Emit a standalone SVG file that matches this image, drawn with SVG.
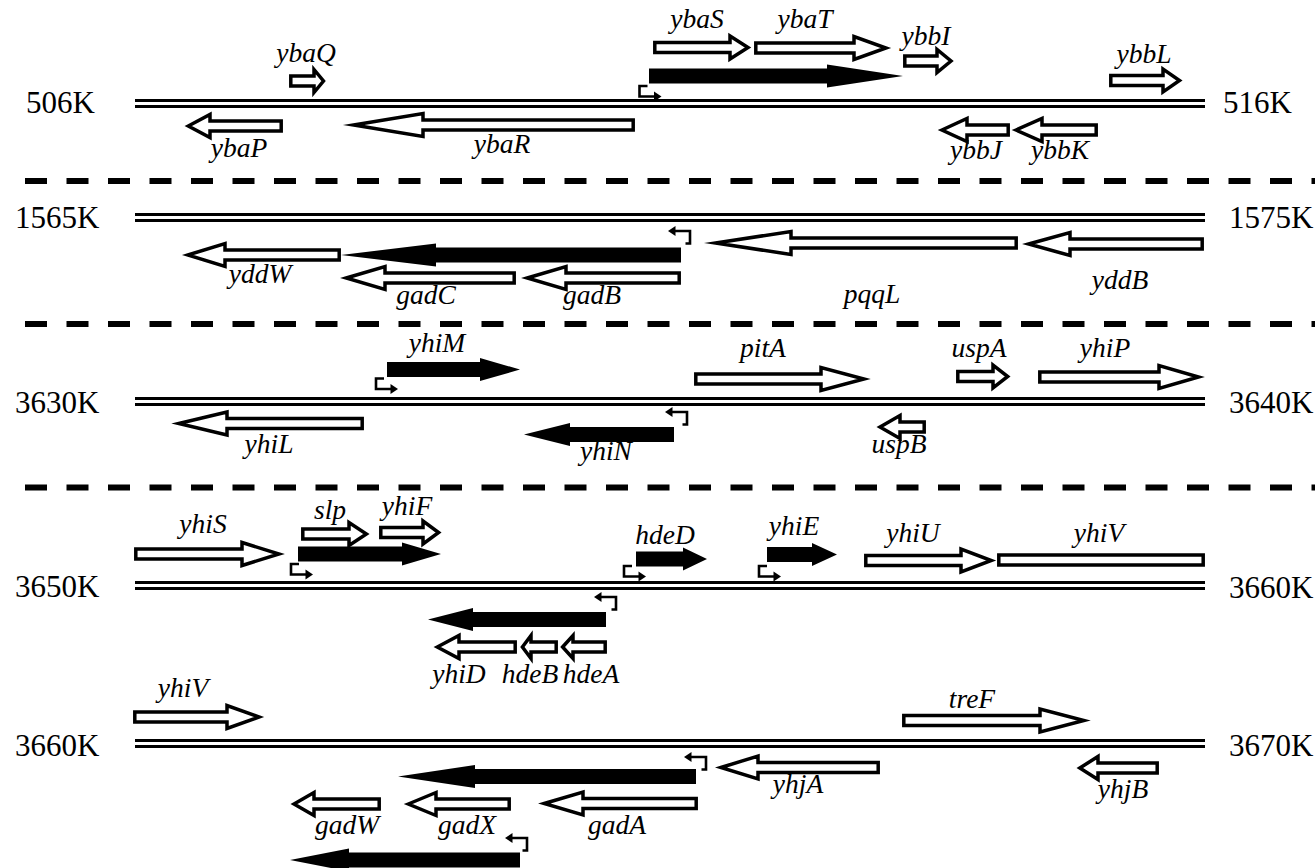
<svg xmlns="http://www.w3.org/2000/svg" xmlns:xlink="http://www.w3.org/1999/xlink" width="1315" height="868" viewBox="0 0 1315 868">
<style>
.o{fill:#fff;stroke:#000;stroke-width:3.5;stroke-miterlimit:20}
.f{fill:#000}
.dna{stroke:#000;stroke-width:2.8}
.sep{stroke:#000;stroke-width:6;stroke-dasharray:22 19.5}
.g{font-family:"Liberation Serif","Times New Roman",serif;font-style:italic;font-size:27.5px;text-anchor:middle}
.k{font-family:"Liberation Serif","Times New Roman",serif;font-size:31px}
.p{fill:none;stroke:#000;stroke-width:2.6}
</style>
<defs>
<g id="pf"><path class="p" d="M8,0 H0 V10.5 H16"/><polygon points="14.5,5.5 22,10.5 14.5,15.5"/></g>
<g id="pr"><path class="p" d="M-4.5,12.5 H0 V0 H-16"/><polygon points="-14.5,-5 -22,0 -14.5,5"/></g>
</defs>
<rect width="1315" height="868" fill="#fff"/>

<g id="separators">
<line class="sep" x1="25" y1="181" x2="1315" y2="181"/>
<line class="sep" x1="25" y1="324" x2="1315" y2="324"/>
<line class="sep" x1="25" y1="487.5" x2="1315" y2="487.5"/>
</g>

<g id="dna">
<line class="dna" x1="135" y1="100.5" x2="1205" y2="100.5"/><line class="dna" x1="135" y1="106.5" x2="1205" y2="106.5"/>
<line class="dna" x1="135" y1="214.5" x2="1205" y2="214.5"/><line class="dna" x1="135" y1="220.5" x2="1205" y2="220.5"/>
<line class="dna" x1="135" y1="398.5" x2="1205" y2="398.5"/><line class="dna" x1="135" y1="404.5" x2="1205" y2="404.5"/>
<line class="dna" x1="135" y1="582.5" x2="1205" y2="582.5"/><line class="dna" x1="135" y1="588.5" x2="1205" y2="588.5"/>
<line class="dna" x1="135" y1="740.5" x2="1205" y2="740.5"/><line class="dna" x1="135" y1="746.5" x2="1205" y2="746.5"/>
</g>

<g id="coordinates">
<text class="k" x="26" y="113">506K</text><text class="k" x="1223" y="113">516K</text>
<text class="k" x="15" y="228">1565K</text><text class="k" x="1229" y="228">1575K</text>
<text class="k" x="15" y="413">3630K</text><text class="k" x="1229" y="413">3640K</text>
<text class="k" x="15" y="597">3650K</text><text class="k" x="1229" y="598">3660K</text>
<text class="k" x="15" y="756">3660K</text><text class="k" x="1229" y="756">3670K</text>
</g>

<g id="transcripts">
<polygon class="f" points="649,68.5 827,68.5 827,64.5 903,76 827,87.5 827,83.5 649,83.5"/>
<polygon class="f" points="341,255 436,243.5 436,247.5 681,247.5 681,262.5 436,262.5 436,266.5"/>
<polygon class="f" points="387,362 480,362 480,358 520,369.5 480,381 480,377 387,377"/>
<polygon class="f" points="524,434.5 570,423 570,427 674,427 674,442 570,442 570,446"/>
<polygon class="f" points="298,546.5 402,546.5 402,542.5 441,554 402,565.5 402,561.5 298,561.5"/>
<polygon class="f" points="636,551.5 683,551.5 683,547.5 707,559 683,570.5 683,566.5 636,566.5"/>
<polygon class="f" points="767,547 812,547 812,543 837,554.5 812,566 812,562 767,562"/>
<polygon class="f" points="428,619.5 473,608 473,612 606,612 606,627 473,627 473,631"/>
<polygon class="f" points="398,776.5 475,765 475,769 696,769 696,784 475,784 475,788"/>
<polygon class="f" points="290,860 349,848.5 349,852.5 520,852.5 520,867.5 349,867.5 349,871.5"/>
</g>

<g id="promoters">
<use xlink:href="#pf" x="639.5" y="86"/>
<use xlink:href="#pf" x="376" y="378.5"/>
<use xlink:href="#pf" x="291" y="564"/>
<use xlink:href="#pf" x="624" y="566"/>
<use xlink:href="#pf" x="759" y="566"/>
<use xlink:href="#pr" x="690" y="231"/>
<use xlink:href="#pr" x="687" y="412"/>
<use xlink:href="#pr" x="616" y="597"/>
<use xlink:href="#pr" x="706" y="757"/>
<use xlink:href="#pr" x="527" y="838"/>
</g>

<g id="ybaQ"><polygon class="o" points="290.8,76 314,76 314,69.5 323.5,81 314,92.5 314,86 290.8,86"/><text class="g" x="306" y="62">ybaQ</text></g>
<g id="ybaS"><polygon class="o" points="654.8,42.5 730,42.5 730,36 748,47.5 730,59 730,52.5 654.8,52.5"/><text class="g" x="697" y="28">ybaS</text></g>
<g id="ybaT"><polygon class="o" points="755.8,43 854,43 854,36.5 886,48 854,59.5 854,53 755.8,53"/><text class="g" x="805" y="28">ybaT</text></g>
<g id="ybbI"><polygon class="o" points="904.8,56 937,56 937,49.5 951,61 937,72.5 937,66 904.8,66"/><text class="g" x="926" y="45">ybbI</text></g>
<g id="ybbL"><polygon class="o" points="1110.8,75.5 1163,75.5 1163,69 1179.5,80.5 1163,92 1163,85.5 1110.8,85.5"/><text class="g" x="1144" y="63">ybbL</text></g>
<g id="ybaP"><polygon class="o" points="188.3,126 210,114.5 210,121 281.2,121 281.2,131 210,131 210,137.5"/><text class="g" x="239" y="157">ybaP</text></g>
<g id="ybaR"><polygon class="o" points="353.6,125 423,113.5 423,120 633.2,120 633.2,130 423,130 423,136.5"/><text class="g" x="502" y="153">ybaR</text></g>
<g id="ybbJ"><polygon class="o" points="941.9,130 967,118.5 967,125 1008.2,125 1008.2,135 967,135 967,141.5"/><text class="g" x="976" y="159">ybbJ</text></g>
<g id="ybbK"><polygon class="o" points="1016,130 1042,118.5 1042,125 1096.2,125 1096.2,135 1042,135 1042,141.5"/><text class="g" x="1060" y="159">ybbK</text></g>

<g id="yddW"><polygon class="o" points="187.9,255 225,243.5 225,250 339.2,250 339.2,260 225,260 225,266.5"/><text class="g" x="260" y="283">yddW</text></g>
<g id="gadC"><polygon class="o" points="346.2,278 385,266.5 385,273 514.2,273 514.2,283 385,283 385,289.5"/><text class="g" x="426" y="304">gadC</text></g>
<g id="gadB"><polygon class="o" points="527.2,278 566,266.5 566,273 679.2,273 679.2,283 566,283 566,289.5"/><text class="g" x="592" y="304">gadB</text></g>
<g id="pqqL"><polygon class="o" points="715.6,243 791,231.5 791,238 1016.2,238 1016.2,248 791,248 791,254.5"/><text class="g" x="872" y="303">pqqL</text></g>
<g id="yddB"><polygon class="o" points="1028.6,244 1070,232.5 1070,239 1202.2,239 1202.2,249 1070,249 1070,255.5"/><text class="g" x="1120" y="289">yddB</text></g>

<g id="yhiM"><text class="g" x="437" y="352">yhiM</text></g>
<g id="pitA"><polygon class="o" points="695.8,374 821,374 821,367.5 864,379 821,390.5 821,384 695.8,384"/><text class="g" x="763" y="357">pitA</text></g>
<g id="uspA"><polygon class="o" points="957.8,371.5 993,371.5 993,365 1007.7,376.5 993,388 993,381.5 957.8,381.5"/><text class="g" x="979" y="357">uspA</text></g>
<g id="yhiP"><polygon class="o" points="1039.8,372 1159,372 1159,365.5 1198.6,377 1159,388.5 1159,382 1039.8,382"/><text class="g" x="1105" y="357">yhiP</text></g>
<g id="yhiL"><polygon class="o" points="178.8,423.5 227,412 227,418.5 362.2,418.5 362.2,428.5 227,428.5 227,435"/><text class="g" x="269" y="453">yhiL</text></g>
<g id="yhiN"><text class="g" x="606" y="460">yhiN</text></g>
<g id="uspB"><polygon class="o" points="880,427 900,415.5 900,422 924.2,422 924.2,432 900,432 900,438.5"/><text class="g" x="899" y="453">uspB</text></g>

<g id="yhiS"><polygon class="o" points="135.8,549 242,549 242,542.5 279,554 242,565.5 242,559 135.8,559"/><text class="g" x="203" y="533">yhiS</text></g>
<g id="slp"><polygon class="o" points="302.8,529 349,529 349,522.5 366.4,534 349,545.5 349,539 302.8,539"/><text class="g" x="330" y="519">slp</text></g>
<g id="yhiF"><polygon class="o" points="380.8,527.5 423,527.5 423,521 438.6,532.5 423,544 423,537.5 380.8,537.5"/><text class="g" x="407" y="515">yhiF</text></g>
<g id="hdeD"><text class="g" x="665" y="544">hdeD</text></g>
<g id="yhiE"><text class="g" x="794" y="535">yhiE</text></g>
<g id="yhiU"><polygon class="o" points="865.8,555.5 961,555.5 961,549 991.3,560.5 961,572 961,565.5 865.8,565.5"/><text class="g" x="913" y="542">yhiU</text></g>
<g id="yhiV-a"><rect class="o" x="998.8" y="555" width="204.4" height="10"/><text class="g" x="1099" y="542">yhiV</text></g>
<g id="yhiD"><polygon class="o" points="437.3,647 459,635.5 459,642 515.2,642 515.2,652 459,652 459,658.5"/><text class="g" x="459" y="683">yhiD</text></g>
<g id="hdeB"><polygon class="o" points="522.4,647 531,635.5 531,642 556.2,642 556.2,652 531,652 531,658.5"/><text class="g" x="530" y="683">hdeB</text></g>
<g id="hdeA"><polygon class="o" points="562.6,647 573,635.5 573,642 605.2,642 605.2,652 573,652 573,658.5"/><text class="g" x="591" y="683">hdeA</text></g>

<g id="yhiV-b"><polygon class="o" points="134.8,712 227,712 227,705.5 259,717 227,728.5 227,722 134.8,722"/><text class="g" x="183" y="697">yhiV</text></g>
<g id="treF"><polygon class="o" points="903.8,715.5 1040,715.5 1040,709 1083.9,720.5 1040,732 1040,725.5 903.8,725.5"/><text class="g" x="972" y="708">treF</text></g>
<g id="yhjA"><polygon class="o" points="720.9,767.5 758,756 758,762.5 878.2,762.5 878.2,772.5 758,772.5 758,779"/><text class="g" x="798" y="793">yhjA</text></g>
<g id="yhjB"><polygon class="o" points="1079.8,768 1098,756.5 1098,763 1157.2,763 1157.2,773 1098,773 1098,779.5"/><text class="g" x="1123" y="798">yhjB</text></g>
<g id="gadW"><polygon class="o" points="294,804 314,792.5 314,799 379.2,799 379.2,809 314,809 314,815.5"/><text class="g" x="347" y="834">gadW</text></g>
<g id="gadX"><polygon class="o" points="408.3,804 436,792.5 436,799 509.2,799 509.2,809 436,809 436,815.5"/><text class="g" x="467" y="834">gadX</text></g>
<g id="gadA"><polygon class="o" points="544.2,803.5 583,792 583,798.5 696.2,798.5 696.2,808.5 583,808.5 583,815"/><text class="g" x="617" y="834">gadA</text></g>
</svg>
